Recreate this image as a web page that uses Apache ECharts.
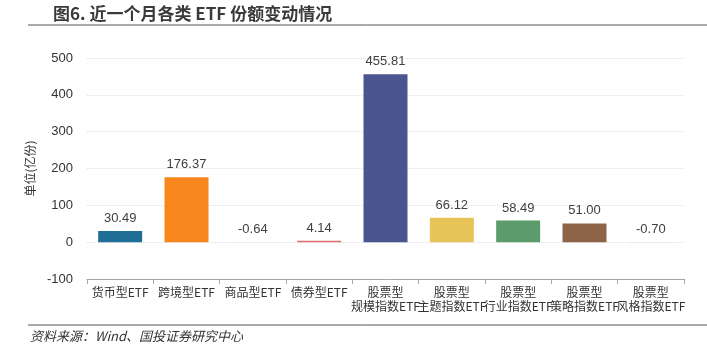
<!DOCTYPE html>
<html><head><meta charset="utf-8">
<script src="https://cdn.jsdelivr.net/npm/echarts@6/dist/echarts.min.js"></script>
<style>html,body{margin:0;padding:0;background:#fff}#c{width:707px;height:362px}</style>
</head><body><div id="c"></div>
<script>
const categories = ['货币型ETF','跨境型ETF','商品型ETF','债券型ETF','股票型\n规模指数ETF','股票型\n主题指数ETF','股票型\n行业指数ETF','股票型\n策略指数ETF','股票型\n风格指数ETF'];
const values = [30.49, 176.37, -0.64, 4.14, 455.81, 66.12, 58.49, 51.00, -0.70];
const colors = ['#1f6e95','#f7861c','#c9e6f2','#e46c6c','#4a548e','#e6c457','#5c9b6b','#8d6448','#d3e0ea'];
const yTicks = [-100, 0, 100, 200, 300, 400, 500];

const chart = echarts.init(document.getElementById('c'));
chart.setOption({
  animation: false,
  backgroundColor: '#fff',
  grid: {left: 87, right: 23, top: 58, bottom: 83},
  xAxis: {
    type: 'category', data: categories,
    axisLine: {onZero: false, lineStyle: {color: '#a6a6a6'}},
    axisTick: {show: true, lineStyle: {color: '#a6a6a6'}},
    axisLabel: {interval: 0, color: '#333', fontSize: 12, lineHeight: 14,
      fontFamily: '"Liberation Sans Narrow","Noto Sans CJK SC",sans-serif', margin: 6}
  },
  yAxis: {
    type: 'value', min: yTicks[0], max: yTicks[yTicks.length-1], interval: 100,
    name: '单位(亿份)', nameLocation: 'middle', nameGap: 33, nameRotate: 90,
    nameTextStyle: {color: '#333', fontSize: 12, fontFamily: '"Noto Sans CJK SC",sans-serif'},
    axisLine: {show: false}, axisTick: {show: false},
    axisLabel: {color: '#333', fontSize: 13, fontFamily: '"Liberation Sans","Noto Sans CJK SC",sans-serif', margin: 14},
    splitLine: {lineStyle: {color: '#e0e0e0', type: 'dotted'}}
  },
  series: [{
    type: 'bar', barWidth: 44,
    data: values.map((v, i) => ({value: v, itemStyle: {color: colors[i]}})),
    label: {show: true, position: 'top', color: '#404040', fontSize: 13,
      fontFamily: '"Liberation Sans",sans-serif', distance: 6,
      formatter: p => p.value.toFixed(2)}
  }],
  graphic: [
    {type: 'text', left: 53, top: 5, style: {text: '图6. 近一个月各类 ETF 份额变动情况', font: 'bold 17px "Noto Sans CJK SC",sans-serif', fill: '#3a3a3a'}},
    {type: 'line', shape: {x1: 28, y1: 25, x2: 707, y2: 25}, style: {stroke: '#555', lineWidth: 1}},
    {type: 'line', shape: {x1: 28, y1: 325, x2: 707, y2: 325}, style: {stroke: '#555', lineWidth: 1}},
    {type: 'text', left: 30, top: 330, style: {text: '资料来源：Wind、国投证券研究中心', font: 'italic 13px "Noto Sans CJK SC",sans-serif', fill: '#333'}}
  ]
});
</script></body></html>
